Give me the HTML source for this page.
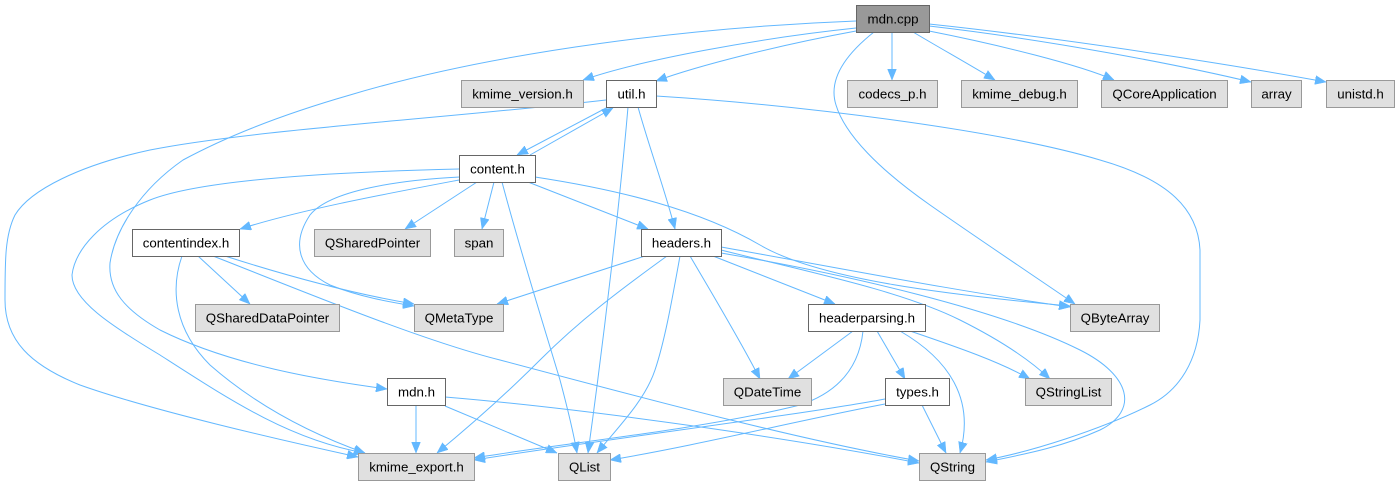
<!DOCTYPE html>
<html>
<head>
<meta charset="utf-8">
<style>
  html, body { margin: 0; padding: 0; background: #ffffff; }
  svg { display: block; }
  text { font-family: "Liberation Sans", Arial, sans-serif; font-size: 13.3px; fill: #000; }
  .e { fill: none; stroke: #63b8ff; stroke-width: 1; }
  .g { fill: #e0e0e0; stroke: #999999; stroke-width: 1; }
  .w { fill: #ffffff; stroke: #666666; stroke-width: 1; }
  .m { fill: #999999; stroke: #666666; stroke-width: 1; }
</style>
</head>
<body>
<svg width="1399" height="485" viewBox="0 0 1399 485" xmlns="http://www.w3.org/2000/svg">
  <defs>
    <marker id="a" markerUnits="userSpaceOnUse" viewBox="0 0 11 9" refX="11" refY="4.5" markerWidth="11" markerHeight="9" orient="auto">
      <path d="M0,0 L11,4.5 L0,9 z" fill="#63b8ff" stroke="#63b8ff" stroke-width="0.5"/>
    </marker>
  </defs>

  <!-- edges -->
  <g marker-end="url(#a)">
    <path class="e" d="M856,28 C760,38 640,60 583,80"/>
    <path class="e" d="M856,31 C780,45 700,65 656,81"/>
    <path class="e" d="M892,32 L892,80"/>
    <path class="e" d="M913,32 C940,48 970,65 995,80"/>
    <path class="e" d="M929,31 C1000,45 1080,65 1114,80"/>
    <path class="e" d="M929,26 C1050,40 1180,65 1251,82"/>
    <path class="e" d="M929,24 C1080,40 1250,68 1326,82"/>
    <path class="e" d="M874,32 C845,55 828,80 836,105 C845,135 880,170 930,205 C980,240 1040,280 1075,304"/>
    <path class="e" d="M856,21 C700,27 500,50 350,95 C270,118 220,140 183,160 C140,190 115,230 110,263 C108,290 125,310 160,330 C230,365 320,380 387,389"/>

    <path class="e" d="M608,107 L517,155"/>
    <path class="e" d="M530,155 L613,108"/>
    <path class="e" d="M606,100 C450,118 250,130 150,150 C80,165 30,190 15,215 C5,235 5,260 5,300 C5,340 30,365 80,385 C150,410 280,440 358,457"/>
    <path class="e" d="M628,107 C620,200 605,330 588,453"/>
    <path class="e" d="M638,107 C650,150 665,190 675,229"/>
    <path class="e" d="M656,96 C800,105 1000,130 1100,160 C1170,180 1198,210 1200,250 L1200,320 C1198,360 1180,390 1150,405 C1100,430 1030,452 986,460"/>

    <path class="e" d="M459,180 C380,195 300,210 240,229"/>
    <path class="e" d="M477,182 L405,229"/>
    <path class="e" d="M494,182 L482,229"/>
    <path class="e" d="M528,182 L648,229"/>
    <path class="e" d="M460,177 C400,180 330,190 310,215 C290,245 300,270 330,285 C360,297 390,302 414,306"/>
    <path class="e" d="M459,169 C330,172 200,180 150,200 C100,220 75,250 72,275 C72,300 110,325 160,355 C230,400 290,440 365,453"/>
    <path class="e" d="M502,182 C520,250 545,330 560,380 C568,410 573,430 577,453"/>
    <path class="e" d="M535,177 C620,190 700,210 760,245 C820,280 950,295 1070,306"/>

    <path class="e" d="M198,256 L250,304"/>
    <path class="e" d="M225,256 C300,280 360,295 414,304"/>
    <path class="e" d="M213,256 C300,290 420,340 500,360 C650,400 800,440 919,461"/>
    <path class="e" d="M182,256 C170,290 175,330 210,365 C250,400 300,430 365,453"/>

    <path class="e" d="M645,256 L497,304"/>
    <path class="e" d="M667,256 C620,290 580,320 540,360 C500,400 465,430 437,453"/>
    <path class="e" d="M680,256 C672,300 665,340 655,370 C645,400 620,425 597,453"/>
    <path class="e" d="M690,256 C710,290 740,340 760,379"/>
    <path class="e" d="M713,256 L835,304"/>
    <path class="e" d="M721,250 C800,270 900,290 960,320 C1000,340 1030,360 1050,379"/>
    <path class="e" d="M721,253 C850,275 1000,310 1080,350 C1130,375 1140,410 1100,430 C1060,448 1020,455 986,462"/>
    <path class="e" d="M721,247 C850,270 950,290 1070,307"/>

    <path class="e" d="M853,331 L788,379"/>
    <path class="e" d="M877,331 L905,379"/>
    <path class="e" d="M900,331 C950,360 975,400 960,453"/>
    <path class="e" d="M910,331 C960,348 1000,362 1030,379"/>
    <path class="e" d="M863,331 C860,360 845,390 800,405 C700,430 550,445 474,458"/>

    <path class="e" d="M885,399 C800,415 600,440 474,460"/>
    <path class="e" d="M885,404 C800,420 700,445 610,460"/>
    <path class="e" d="M922,405 L946,453"/>

    <path class="e" d="M416,405 L416,453"/>
    <path class="e" d="M445,406 L557,453"/>
    <path class="e" d="M445,397 C600,410 800,440 919,463"/>
  </g>

  <!-- nodes -->
  <rect class="m" x="856.5" y="5.5" width="73" height="27"/>
  <text x="893" y="23.5" text-anchor="middle">mdn.cpp</text>

  <rect class="g" x="461.5" y="80.5" width="122" height="27"/>
  <text x="522.5" y="98.5" text-anchor="middle">kmime_version.h</text>

  <rect class="w" x="606.5" y="80.5" width="50" height="27"/>
  <text x="631.5" y="98.5" text-anchor="middle">util.h</text>

  <rect class="g" x="847.5" y="80.5" width="90" height="27"/>
  <text x="892.5" y="98.5" text-anchor="middle">codecs_p.h</text>

  <rect class="g" x="961.5" y="80.5" width="116" height="27"/>
  <text x="1019.5" y="98.5" text-anchor="middle">kmime_debug.h</text>

  <rect class="g" x="1101.5" y="80.5" width="126" height="27"/>
  <text x="1164.5" y="98.5" text-anchor="middle">QCoreApplication</text>

  <rect class="g" x="1251.5" y="80.5" width="50" height="27"/>
  <text x="1276.5" y="98.5" text-anchor="middle">array</text>

  <rect class="g" x="1326.5" y="80.5" width="68" height="27"/>
  <text x="1360.5" y="98.5" text-anchor="middle">unistd.h</text>

  <rect class="w" x="459.5" y="155.5" width="76" height="27"/>
  <text x="497.5" y="173.5" text-anchor="middle">content.h</text>

  <rect class="w" x="132.5" y="229.5" width="107" height="27"/>
  <text x="186" y="247.5" text-anchor="middle">contentindex.h</text>

  <rect class="g" x="314.5" y="229.5" width="116" height="27"/>
  <text x="372.5" y="247.5" text-anchor="middle">QSharedPointer</text>

  <rect class="g" x="454.5" y="229.5" width="49" height="27"/>
  <text x="479" y="247.5" text-anchor="middle">span</text>

  <rect class="w" x="641.5" y="229.5" width="80" height="27"/>
  <text x="681.5" y="247.5" text-anchor="middle">headers.h</text>

  <rect class="g" x="195.5" y="304.5" width="144" height="27"/>
  <text x="267.5" y="322.5" text-anchor="middle">QSharedDataPointer</text>

  <rect class="g" x="414.5" y="304.5" width="89" height="27"/>
  <text x="459" y="322.5" text-anchor="middle">QMetaType</text>

  <rect class="w" x="808.5" y="304.5" width="117" height="27"/>
  <text x="867" y="322.5" text-anchor="middle">headerparsing.h</text>

  <rect class="g" x="1070.5" y="304.5" width="89" height="27"/>
  <text x="1115" y="322.5" text-anchor="middle">QByteArray</text>

  <rect class="w" x="387.5" y="378.5" width="58" height="27"/>
  <text x="416.5" y="396.5" text-anchor="middle">mdn.h</text>

  <rect class="g" x="723.5" y="378.5" width="88" height="27"/>
  <text x="767.5" y="396.5" text-anchor="middle">QDateTime</text>

  <rect class="w" x="885.5" y="378.5" width="64" height="27"/>
  <text x="917.5" y="396.5" text-anchor="middle">types.h</text>

  <rect class="g" x="1025.5" y="378.5" width="86" height="27"/>
  <text x="1068.5" y="396.5" text-anchor="middle">QStringList</text>

  <rect class="g" x="358.5" y="453.5" width="116" height="27"/>
  <text x="416.5" y="471.5" text-anchor="middle">kmime_export.h</text>

  <rect class="g" x="558.5" y="453.5" width="52" height="27"/>
  <text x="584.5" y="471.5" text-anchor="middle">QList</text>

  <rect class="g" x="919.5" y="453.5" width="66" height="27"/>
  <text x="952.5" y="471.5" text-anchor="middle">QString</text>
</svg>
</body>
</html>
